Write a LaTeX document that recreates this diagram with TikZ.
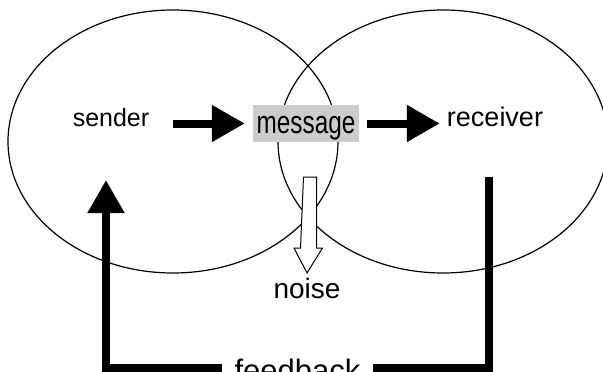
\documentclass[tikz,border=0pt]{standalone}
\usepackage{fontspec}
\setmainfont{Liberation Sans}
\newfontfamily\narrowfont[FakeStretch=0.76]{Liberation Sans}
\usetikzlibrary{arrows.meta}
\begin{document}
\begin{tikzpicture}[x=1pt, y=-1pt, line join=miter,
	fat/.style={line width=8pt},
	fathead/.style={-{Triangle[length=33pt,width=35pt]}},
	word/.style={anchor=base, inner sep=0pt},
	msgbox/.style={fill=gray!40, inner sep=0pt, minimum width=106pt, minimum height=37pt, text height=19pt, text depth=0pt, font=\narrowfont\fontsize{32}{32}\selectfont}]
	\useasboundingbox (0,0) rectangle (603,372);
	\foreach \cx in {173,443}
	\draw[line width=1.2pt] (\cx,141.5) ellipse (165pt and 131.5pt);
	\node[word, font=\fontsize{25}{25}\selectfont] (sender) at (111,126) {sender};
	\node[word, font=\fontsize{27}{27}\selectfont] (receiver) at (495,126) {receiver};
	\node[msgbox] (message) at (306,123.5) {message};
	\node[word, font=\fontsize{28}{28}\selectfont] (noise) at (307,298) {noise};
	\node[word, font=\fontsize{31}{31}\selectfont] (feedback) at (297.5,381) {feedback};
	\draw[fat, fathead, shorten <=24pt, shorten >=8pt] (sender.east |- message.west) -- (message.west);
	\draw[fat, fathead, shorten <=8pt, shorten >=7pt] (message.east) -- (receiver.west |- message.east);
	% open arrow for noise
	\coordinate (ntop) at (310,177);
	\draw[line width=1pt, fill=white] (ntop) ++(-6.5,0) -- ++(13,0) -- ++(0,71) -- ++(6,0) -- (noise.north |- 0,273) -- ++(-13,-25) -- ++(6.5,0) -- cycle;
	% feedback loop
	\coordinate (rtop) at (489,177);
	\coordinate (ltop) at (106,180);
	\coordinate (fbR) at (373,368);
	\coordinate (fbL) at (222,368);
	\draw[fat] (rtop) |- (fbR);
	\draw[fat, fathead] (fbL) -| (ltop);
\end{tikzpicture}
\end{document}
